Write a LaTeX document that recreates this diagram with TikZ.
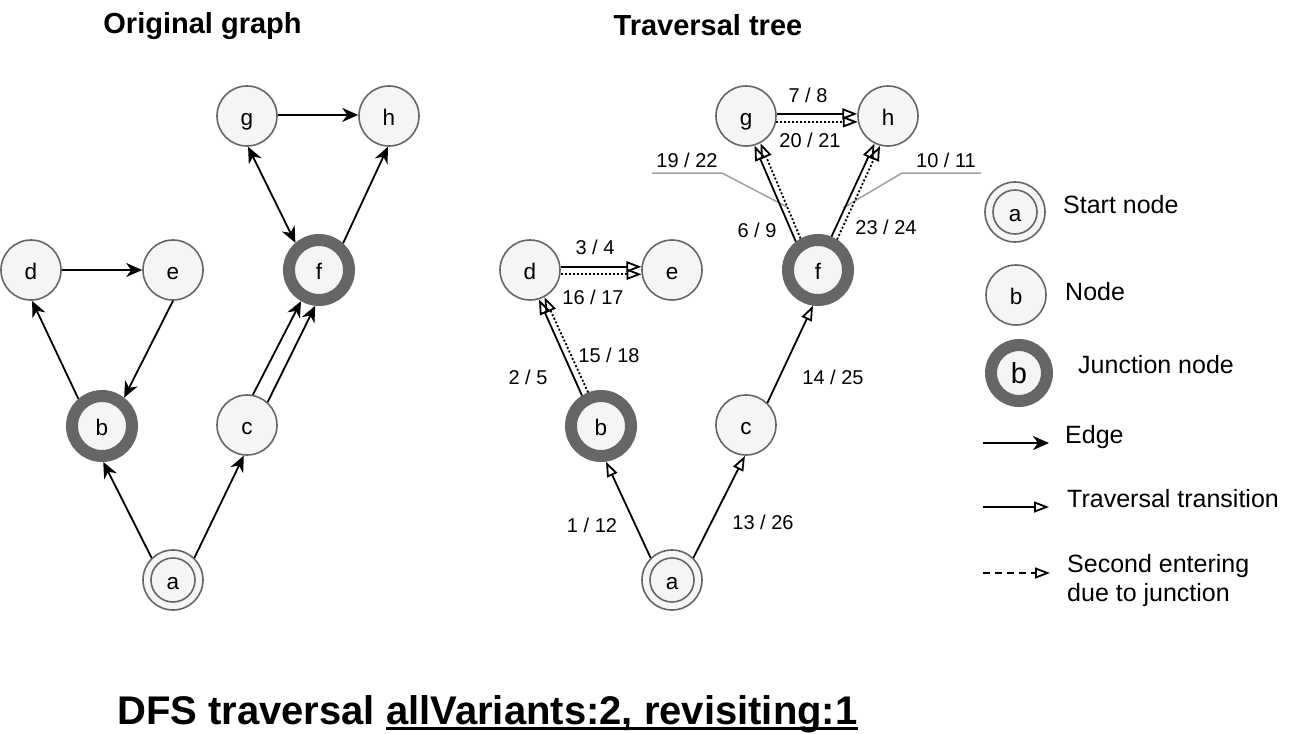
\documentclass[tikz,border=0pt]{standalone}
\usepackage{fontspec}
\setmainfont{Liberation Sans}
\usetikzlibrary{arrows.meta}
\definecolor{nodefill}{HTML}{F5F5F5}
\definecolor{nodeline}{HTML}{666666}
\definecolor{leadgray}{HTML}{A0A0A0}
\newcommand\myul[1]{\setbox0\hbox{#1}\rlap{\rule[-6pt]{\wd0}{3pt}}\box0}
\begin{document}
\begin{tikzpicture}[x=1pt,y=-1pt,
  gnode/.style={circle, minimum size=60pt, inner sep=0pt, draw=nodeline, line width=1.6pt, fill=nodefill, text height=19pt, text depth=1pt, font=\fontsize{22.5}{26}\selectfont},
  jnode/.style={gnode, line width=12pt},
  snode/.style={gnode, path picture={\draw[nodeline, line width=1.6pt] (path picture bounding box.center) circle[radius=22];}},
  gedge/.style={line width=1.8pt, -{Stealth[length=16pt, width=14pt, inset=5pt]}},
  gboth/.style={line width=1.8pt, {Stealth[length=16pt, width=14pt, inset=5pt]}-{Stealth[length=16pt, width=14pt, inset=5pt]}},
  trans/.style={line width=1.8pt, -{Triangle[open, length=15pt, width=11pt]}},
  second/.style={trans, dash pattern=on 2pt off 2pt},
  legdash/.style={trans, dash pattern=on 7pt off 5pt},
  elabel/.style={font=\fontsize{20}{24}\selectfont, inner sep=0pt},
  legtext/.style={font=\fontsize{25}{29}\selectfont, anchor=base west, inner sep=0pt},
  title/.style={font=\fontsize{29}{34}\selectfont\bfseries, anchor=base, inner sep=0pt},
  leader/.style={draw=leadgray, line width=1.5pt}
]
\useasboundingbox (0,0) rectangle (1302,734);

% titles
\node[title] (t1) at (202.5,33) {Original graph};
\node[title] (t2) at (708,35.5) {Traversal tree};

% original graph
\node[snode] (A1) at (173,580) {a};
\node[jnode] (B1) at (102,426) {b};
\node[gnode] (C1) at (247,425) {c};
\node[gnode] (D1) at (31,270) {d};
\node[gnode] (E1) at (173,270) {e};
\node[jnode] (F1) at (319,270) {f};
\node[gnode] (G1) at (247,116) {g};
\node[gnode] (H1) at (389,116) {h};

\draw[gedge] (A1.134) -- (B1.-88);
\draw[gedge] (A1.46) -- (C1.-96);
\draw[gedge] (B1.131) -- (D1.-88);
\draw[gedge] (D1.0) -- (E1.180);
\draw[gedge] (E1.-90) -- (B1.52);
\draw[gedge] (C1.79) -- (F1.-120);
\draw[gedge] (C1.48) -- (F1.-96);
\draw[gboth] (G1.-88) -- (F1.131);
\draw[gedge] (F1.48) -- (H1.-92);
\draw[gedge] (G1.2) -- (H1.178);

% traversal tree
\node[snode] (A2) at (672,580) {a};
\node[jnode] (B2) at (601,426) {b};
\node[gnode] (C2) at (746,425) {c};
\node[gnode] (D2) at (530,270) {d};
\node[gnode] (E2) at (672,270) {e};
\node[jnode] (F2) at (818,270) {f};
\node[gnode] (G2) at (746,116) {g};
\node[gnode] (H2) at (888,116) {h};

\coordinate (k1a) at (652,173);
\coordinate (k1b) at (722,173);
\coordinate (k1c) at (787,207);
\draw[leader] (k1a) -- (k1b) -- (k1c);
\coordinate (k2a) at (981,173);
\coordinate (k2b) at (902,173);
\coordinate (k2c) at (843,208);
\draw[leader] (k2a) -- (k2b) -- (k2c);

\draw[trans] (A2.134) -- (B2.-82);
\draw[trans] (A2.46) -- (C2.-92);
\draw[trans] (C2.46) -- (F2.-98);
\draw[trans] (B2.122) -- (D2.-73);
\draw[second] (B2.111) -- (D2.-62);
\draw[trans] (D2.6) -- (E2.174);
\draw[second] (D2.-8) -- (E2.-172);
\draw[trans] (F2.128) -- (G2.-74);
\draw[second] (F2.119) -- (G2.-62);
\draw[trans] (F2.68) -- (H2.-116);
\draw[second] (F2.58) -- (H2.-105);
\draw[trans] (G2.4) -- (H2.176);
\draw[second] (G2.-11) -- (H2.-169);

\node[elabel] (l78) at (808,95) {7 / 8};
\node[elabel] (l2021) at (810,140) {20 / 21};
\node[elabel] (l1922) at (687,160) {19 / 22};
\node[elabel] (l1011) at (946,160) {10 / 11};
\node[elabel] (l69) at (757,230) {6 / 9};
\node[elabel] (l2324) at (886,227) {23 / 24};
\node[elabel] (l34) at (595,247) {3 / 4};
\node[elabel] (l1617) at (593,297) {16 / 17};
\node[elabel] (l1518) at (609,355) {15 / 18};
\node[elabel] (l25) at (528,377) {2 / 5};
\node[elabel] (l112) at (592,525) {1 / 12};
\node[elabel] (l1425) at (833,377) {14 / 25};
\node[elabel] (l1326) at (763,522) {13 / 26};

% legend
\node[snode] (LA) at (1015,212) {a};
\node[gnode] (LB) at (1016,295) {b};
\node[jnode, minimum size=56pt, font=\fontsize{29}{33}\selectfont, text height=21pt] (LJ) at (1019,373) {b};
\node[legtext] (ls) at (1063,213) {Start node};
\node[legtext] (ln) at (1065,300) {Node};
\node[legtext] (lj) at (1078,373) {Junction node};
\node[legtext] (le) at (1065,443) {Edge};
\node[legtext] (lt) at (1067,507) {Traversal transition};
\node[legtext] (lse1) at (1067,572) {Second entering};
\node[legtext] (lse2) at (1067,601) {due to junction};

\coordinate (e1) at (983,443);
\coordinate (e2) at (1049,443);
\draw[gedge] (e1) -- (e2);
\coordinate (r1) at (983,507);
\coordinate (r2) at (1049,507);
\draw[trans] (r1) -- (r2);
\coordinate (s1) at (983,573);
\coordinate (s2) at (1050,573);
\draw[legdash] (s1) -- (s2);

% bottom caption
\node[anchor=base west, inner sep=0pt, font=\fontsize{40}{48}\selectfont\bfseries] (bt) at (117,724) {DFS traversal \myul{allVariants:2, revisiting:1}};
\end{tikzpicture}
\end{document}
